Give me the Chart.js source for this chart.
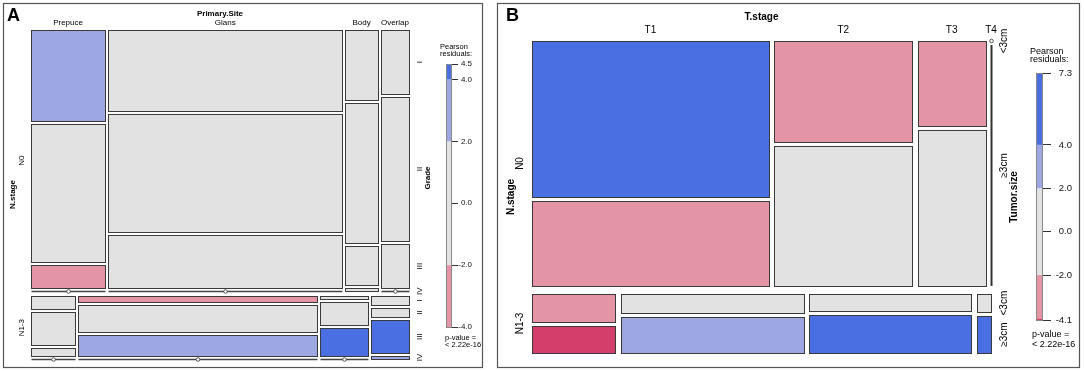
<!DOCTYPE html>
<html>
<head>
<meta charset="utf-8">
<script src="https://cdn.jsdelivr.net/npm/chart.js@4.4.1/dist/chart.umd.min.js"></script>
<style>
  html, body { margin: 0; padding: 0; background: #fff; }
  #wrap { position: relative; width: 1084px; height: 371px; }
  .panel { position: absolute; top: 0; height: 371px; }
  #panelA { left: 0; width: 490px; }
  #panelB { left: 490px; width: 594px; }
</style>
</head>
<body>
<div id="wrap">
  <div class="panel" id="panelA"><canvas id="chartA" width="490" height="371"></canvas></div>
  <div class="panel" id="panelB"><canvas id="chartB" width="594" height="371"></canvas></div>
</div>
<script>
// ---- Panel A: N.stage x Primary.Site x Grade ----
const nStageA = ['N0', 'N1-3'];
const primarySite = ['Prepuce', 'Glans', 'Body', 'Overlap'];
const grade = ['I', 'II', 'III', 'IV'];
// counts per site, split by grade
const countsN0A = [[60, 91, 15, 0], [169, 244, 111, 0], [20, 40, 11, 1], [16, 36, 11, 0]];
const countsN13A = [[5, 13, 3, 0], [12, 58, 44, 0], [1, 10, 12, 0], [3, 3, 11, 1]];
// pearson residuals (estimated from shading)
const residN0A = [[2.8, -0.4, -2.6, -0.6], [-0.3, 0.2, 0.4, -1.0], [-0.4, 0.6, -0.2, 1.2], [0.1, 0.5, -0.1, -0.4]];
const residN13A = [[0.6, 1.2, -0.9, -0.3], [-2.4, -0.5, 2.6, -0.5], [-1.1, -0.6, 4.5, -0.2], [0.4, -0.9, 4.3, 2.2]];
const legendTicksA = [4.5, 4.0, 2.0, 0.0, -2.0, -4.0];

// ---- Panel B: N.stage x T.stage x Tumor.size ----
const nStageB = ['N0', 'N1-3'];
const tStage = ['T1', 'T2', 'T3', 'T4'];
const tumorSize = ['<3cm', '\u22653cm'];
const countsN0B = [[282, 153], [106, 148], [44, 81], [0, 0]];
const countsN13B = [[18, 17], [27, 50], [21, 47], [2, 4]];
const residN0B = [[5.6, -3.1], [-3.3, 1.4], [-2.7, 1.1], [-0.9, -1.3]];
const residN13B = [[-2.5, -4.1], [-1.5, 3.2], [-1.7, 7.3], [-0.4, 4.6]];
const legendTicksB = [7.3, 4.0, 2.0, 0.0, -2.0, -4.1];

const FONT = '"Liberation Sans", Arial, sans-serif';

function shade(r) {
    if (r > 4) return '#4A6FE3';
    if (r > 2) return '#9DA8E2';
    if (r >= -2) return '#E2E2E2';
    if (r >= -4) return '#E495A5';
    return '#D33F6A';
}

const sum = a => a.reduce((s, v) => s + v, 0);

// split rows -> columns -> sub levels, positions in 0..1 units
function mosaicLayout(table, gap) {
    const total = sum(table.flat(2));
    const nR = table.length, nC = table[0].length, nS = table[0][0].length;
    const availH = 1 - gap.row * (nR - 1) - gap.sub * (nS - 1) * nR;
    const availW = 1 - gap.col * (nC - 1);
    const cells = [], rows = [];
    let y = 0;
    table.forEach((row, i) => {
        const rowTot = sum(row.flat());
        const rowH = rowTot / total * availH;
        const span = rowH + gap.sub * (nS - 1);
        rows.push({ y0: y, y1: y + span });
        let x = 0;
        row.forEach((col, j) => {
            const colTot = sum(col);
            const w = colTot / rowTot * availW;
            let yy = y;
            col.forEach((c, k) => {
                const h = colTot ? c / colTot * rowH : 0;
                cells.push({ i, j, k, count: c, x0: x, x1: x + w, y0: yy, y1: yy + h,
                    rowY0: y, rowY1: y + span, emptyCol: colTot === 0 });
                yy += h + gap.sub;
            });
            x += w + gap.col;
        });
        y += span + gap.row;
    });
    return { cells, rows, nC };
}

function txt(ctx, s, x, y, size, bold, rot, align) {
    ctx.save();
    ctx.translate(x, y);
    if (rot) ctx.rotate(-Math.PI / 2);
    ctx.font = (bold ? 'bold ' : '') + size + 'px ' + FONT;
    ctx.fillStyle = '#000';
    ctx.textAlign = align || 'center';
    ctx.textBaseline = 'middle';
    ctx.fillText(s, 0, 0);
    ctx.restore();
}

function mosaicPlugin(spec, lay) {
    return {
        id: 'mosaic' + spec.letter,
        afterDraw(chart) {
            const ctx = chart.ctx;
            const X = v => chart.scales.x.getPixelForValue(v);
            const Y = v => chart.scales.y.getPixelForValue(v);
            const R = chart.scales.resid;
            const snap = p => Math.round(p) + 0.5;
            const p = spec.pos;
            ctx.save();

            // frame
            ctx.strokeStyle = '#555';
            ctx.lineWidth = 1.2;
            ctx.strokeRect(spec.frame[0] + 0.5, spec.frame[1] + 0.5, spec.frame[2], spec.frame[3]);

            const zeroMark = (x, y) => {
                ctx.beginPath();
                ctx.arc(x, y, 1.8, 0, Math.PI * 2);
                ctx.fillStyle = '#fff';
                ctx.fill();
                ctx.lineWidth = 0.8;
                ctx.strokeStyle = '#333';
                ctx.stroke();
            };

            // cells
            lay.cells.forEach(c => {
                const r = spec.resid[c.i][c.j][c.k];
                if (c.emptyCol) {
                    if (c.k !== 0) return;
                    const px = snap(X(c.x0));
                    ctx.strokeStyle = '#333';
                    ctx.lineWidth = 2;
                    ctx.beginPath();
                    ctx.moveTo(px, Y(c.rowY0) + 4);
                    ctx.lineTo(px, Y(c.rowY1));
                    ctx.stroke();
                    zeroMark(px, Y(c.rowY0));
                    return;
                }
                const x0 = snap(X(c.x0)), x1 = snap(X(c.x1));
                const y0 = snap(Y(c.y0)), y1 = snap(Y(c.y1));
                if (c.count === 0) {
                    ctx.strokeStyle = '#444';
                    ctx.lineWidth = 1.6;
                    ctx.beginPath();
                    ctx.moveTo(x0, y0);
                    ctx.lineTo(x1, y0);
                    ctx.stroke();
                    zeroMark((x0 + x1) / 2, y0);
                    return;
                }
                ctx.fillStyle = shade(r);
                ctx.fillRect(x0, y0, x1 - x0, y1 - y0);
                ctx.strokeStyle = '#3a3a3a';
                ctx.lineWidth = 1;
                ctx.strokeRect(x0, y0, x1 - x0, y1 - y0);
            });

            // panel letter and variable names
            txt(ctx, spec.letter, p.letterX, p.letterY, 18, true, false, 'left');
            const midX = (X(0) + X(1)) / 2, midY = (Y(0) + Y(1)) / 2;
            txt(ctx, spec.colVar, midX, p.colVarY, spec.fs.var, true);
            txt(ctx, spec.rowVar, p.rowVarX, midY, spec.fs.var, true, true);
            txt(ctx, spec.subVar, p.subVarX, p.subVarY || midY, spec.fs.var, true, true);

            // column labels along the first row
            lay.cells.filter(c => c.i === 0 && c.k === 0).forEach(c => {
                txt(ctx, spec.colLabels[c.j], X((c.x0 + c.x1) / 2), p.colLabY, spec.fs.label);
            });
            // row labels
            lay.rows.forEach((r, i) => {
                txt(ctx, spec.rowLabels[i], p.rowLabX, Y((r.y0 + r.y1) / 2), spec.fs.label, false, true);
            });
            // sub labels along the last column
            lay.cells.filter(c => c.j === lay.nC - 1).forEach(c => {
                let yv;
                if (c.emptyCol) yv = c.k === 0 ? c.rowY0 : (c.rowY0 + spec.gap.sub + c.rowY1) / 2;
                else if (c.count === 0) yv = c.y0;
                else yv = (c.y0 + c.y1) / 2;
                txt(ctx, spec.subLabels[c.k], p.subLabX, Y(yv), spec.fs.label, false, true);
            });

            // residual colour bar on the legend scale
            const lo = Math.min(...spec.legendTicks), hi = Math.max(...spec.legendTicks);
            const pts = [lo, ...[-4, -2, 2, 4].filter(b => b > lo && b < hi), hi];
            const bx1 = Math.round(R.left), bx0 = bx1 - spec.barW;
            for (let s = 0; s < pts.length - 1; s++) {
                const ya = R.getPixelForValue(pts[s + 1]), yb = R.getPixelForValue(pts[s]);
                ctx.fillStyle = shade((pts[s] + pts[s + 1]) / 2);
                ctx.fillRect(bx0, ya, spec.barW, yb - ya);
            }
            ctx.strokeStyle = '#888';
            ctx.lineWidth = 1;
            ctx.strokeRect(bx0 + 0.5, Math.round(R.getPixelForValue(hi)) + 0.5, spec.barW - 1,
                Math.round(R.getPixelForValue(lo) - R.getPixelForValue(hi)));

            txt(ctx, 'Pearson', p.legX, p.legY[0], spec.fs.legend, false, false, 'left');
            txt(ctx, 'residuals:', p.legX, p.legY[1], spec.fs.legend, false, false, 'left');
            txt(ctx, 'p-value =', p.pvalX, p.pvalY[0], spec.fs.legend, false, false, 'left');
            txt(ctx, spec.pval, p.pvalX, p.pvalY[1], spec.fs.legend, false, false, 'left');
            ctx.restore();
        }
    };
}

function makePanel(canvasId, spec) {
    const lay = mosaicLayout(spec.counts, spec.gap);
    const a = spec.area;
    const xMax = (a.right - a.left) / (spec.mosaicRight - a.left);
    const lo = Math.min(...spec.legendTicks), hi = Math.max(...spec.legendTicks);
    const pxPerUnit = (spec.legendPx[1] - spec.legendPx[0]) / (hi - lo);
    const rMin = lo - (a.bottom - spec.legendPx[1]) / pxPerUnit;
    const rMax = hi + (spec.legendPx[0] - a.top) / pxPerUnit;

    return new Chart(document.getElementById(canvasId), {
        type: 'scatter',
        data: { datasets: [{ data: [], xAxisID: 'x', yAxisID: 'y' }] },
        options: {
            responsive: false,
            animation: false,
            devicePixelRatio: 1,
            layout: { padding: { left: a.left, top: a.top, right: spec.width - spec.labelRight, bottom: spec.height - a.bottom } },
            plugins: { legend: { display: false }, tooltip: { enabled: false } },
            scales: {
                x: { type: 'linear', min: 0, max: xMax, display: false },
                y: { type: 'linear', min: 0, max: 1, reverse: true, display: false },
                resid: {
                    type: 'linear',
                    position: 'right',
                    min: rMin,
                    max: rMax,
                    afterFit: s => { s.width = spec.labelRight - a.right; s.paddingTop = 0; s.paddingBottom = 0; },
                    afterBuildTicks: s => { s.ticks = spec.legendTicks.map(v => ({ value: v })); },
                    ticks: {
                        autoSkip: false,
                        padding: spec.tickPad,
                        crossAlign: 'far',
                        color: '#111',
                        font: { family: FONT, size: spec.fs.tick },
                        callback: v => Number(v).toFixed(1)
                    },
                    grid: { drawOnChartArea: false, tickLength: spec.tickLen, color: '#333', lineWidth: 1 },
                    border: { display: false }
                }
            }
        },
        plugins: [mosaicPlugin(spec, lay)]
    });
}

makePanel('chartA', {
    letter: 'A', width: 490, height: 371,
    area: { left: 31, top: 30, right: 452, bottom: 359 }, mosaicRight: 409, labelRight: 472,
    legendPx: [64, 327], barW: 6, tickLen: 6, tickPad: 1.5,
    gap: { row: 5 / 329, col: 3.3 / 378, sub: 3 / 329 },
    counts: [countsN0A, countsN13A], resid: [residN0A, residN13A],
    rowLabels: nStageA, colLabels: primarySite, subLabels: grade,
    rowVar: 'N.stage', colVar: 'Primary.Site', subVar: 'Grade',
    legendTicks: legendTicksA, pval: '< 2.22e-16',
    frame: [3, 3, 479, 364],
    fs: { label: 8, var: 8, tick: 8, legend: 7.5 },
    pos: { letterX: 7, letterY: 16.5, colVarY: 14, colLabY: 23, rowVarX: 13, rowLabX: 22,
        subLabX: 420, subVarX: 428, subVarY: 178, legX: 440, legY: [47, 54], pvalX: 445, pvalY: [338, 345] }
});

makePanel('chartB', {
    letter: 'B', width: 594, height: 371,
    area: { left: 42, top: 41, right: 553, bottom: 353 }, mosaicRight: 501, labelRight: 582,
    legendPx: [73.3, 320.6], barW: 7, tickLen: 8, tickPad: 3,
    gap: { row: 8 / 312, col: 5.3 / 459, sub: 4 / 312 },
    counts: [countsN0B, countsN13B], resid: [residN0B, residN13B],
    rowLabels: nStageB, colLabels: tStage, subLabels: tumorSize,
    rowVar: 'N.stage', colVar: 'T.stage', subVar: 'Tumor.size',
    legendTicks: legendTicksB, pval: '< 2.22e-16',
    frame: [7, 3, 582, 364],
    fs: { label: 10, var: 10, tick: 9.5, legend: 9 },
    pos: { letterX: 16, letterY: 16.5, colVarY: 17, colLabY: 30, rowVarX: 21, rowLabX: 30,
        subLabX: 514, subVarX: 524, subVarY: null, legX: 540, legY: [52, 60], pvalX: 542, pvalY: [335, 345] }
});
</script>
</body>
</html>
